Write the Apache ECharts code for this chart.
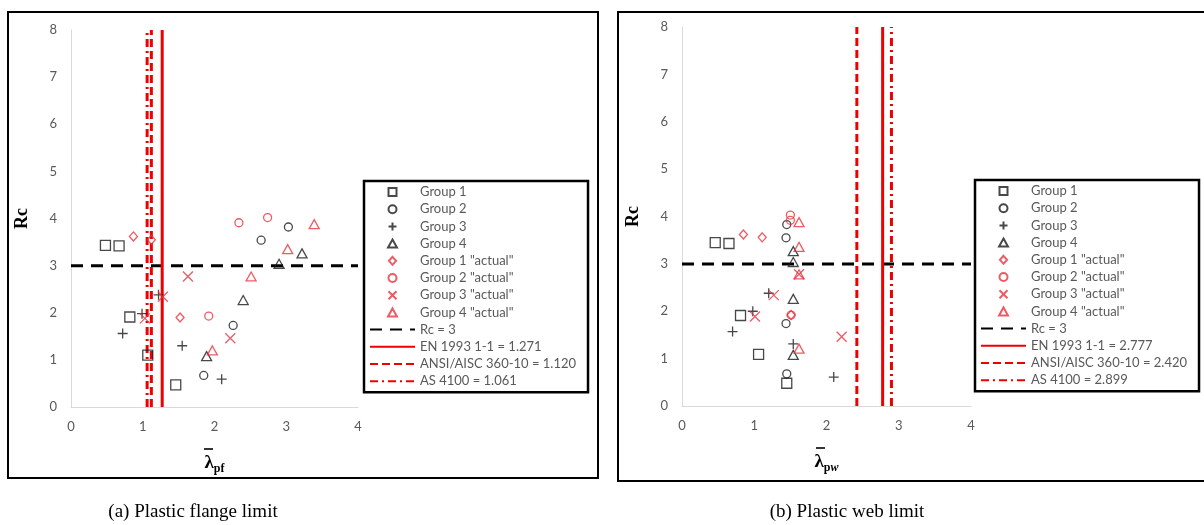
<!DOCTYPE html>
<html>
<head>
<meta charset="utf-8">
<script src="https://cdn.jsdelivr.net/npm/echarts@6/dist/echarts.min.js"></script>
<style>
html,body{margin:0;padding:0;background:#fff;}
#a{position:absolute;left:0;top:0;width:604px;height:525px;}
#b{position:absolute;left:604px;top:0;width:600px;height:525px;}
</style>
</head>
<body>
<div id="a"></div>
<div id="b"></div>
<script>
// ---------- data ----------
const groupNames = ['Group 1','Group 2','Group 3','Group 4','Group 1 "actual"','Group 2 "actual"','Group 3 "actual"','Group 4 "actual"'];
const limitNames = ['EN 1993 1-1','ANSI/AISC 360-10','AS 4100'];
const rcValue = 3;
const xTicks = [0, 4, 1];   // min, max, interval
const yTicks = [0, 8, 1];

// (a) Plastic flange limit
const g1A = [[0.48,3.43],[0.67,3.42],[0.82,1.91],[1.07,1.10],[1.46,0.47]];
const g2A = [[3.03,3.82],[2.65,3.54],[2.26,1.73],[1.85,0.67]];
const g3A = [[1.22,2.38],[0.99,1.98],[0.72,1.56],[1.55,1.30],[2.10,0.59]];
const g4A = [[3.22,3.26],[2.90,3.04],[2.40,2.27],[1.89,1.08]];
const g1actA = [[0.87,3.62],[1.12,3.55],[1.52,1.90]];
const g2actA = [[2.34,3.91],[2.74,4.02],[1.92,1.93]];
const g3actA = [[1.63,2.77],[1.28,2.34],[1.03,1.88],[2.22,1.46]];
const g4actA = [[3.39,3.88],[3.02,3.35],[2.51,2.77],[1.97,1.20]];
const limitsA = [1.271, 1.120, 1.061];

// (b) Plastic web limit
const g1B = [[0.46,3.45],[0.65,3.43],[0.81,1.91],[1.06,1.09],[1.45,0.48]];
const g2B = [[1.45,3.83],[1.44,3.55],[1.44,1.74],[1.45,0.68]];
const g3B = [[1.20,2.38],[0.98,2.00],[0.70,1.57],[1.54,1.31],[2.10,0.61]];
const g4B = [[1.54,3.27],[1.54,3.04],[1.54,2.26],[1.54,1.08]];
const g1actB = [[0.85,3.62],[1.11,3.56],[1.51,1.92]];
const g2actB = [[1.50,4.03],[1.50,3.92],[1.51,1.92]];
const g3actB = [[1.62,2.78],[1.27,2.34],[1.01,1.89],[2.21,1.46]];
const g4actB = [[1.62,3.88],[1.62,3.36],[1.62,2.78],[1.62,1.21]];
const limitsB = [2.777, 2.420, 2.899];

const captionA = '(a) Plastic flange limit';
const captionB = '(b) Plastic web limit';

// ---------- styles ----------
const BLACK = '#1a1a1a';
const RED = '#e8323c';
const LINE_RED = '#ee0000';
const SQUARE = 'path://M0,0L10,0L10,10L0,10Z';
const PLUS = 'path://M0,5L10,5M5,0L5,10';
const CROSS = 'path://M0,0L10,10M10,0L0,10';
const TRI = 'path://M5,0L10,9L0,9Z';
const DIAM = 'path://M4,0L8,4.5L4,9L0,4.5Z';
const symbolDefs = [
  {symbol:SQUARE, size:10, color:BLACK},
  {symbol:'circle', size:8, color:BLACK},
  {symbol:PLUS, size:10, color:BLACK},
  {symbol:TRI, size:10, color:BLACK},
  {symbol:DIAM, size:9, color:RED},
  {symbol:'circle', size:8, color:RED},
  {symbol:CROSS, size:10, color:RED},
  {symbol:TRI, size:10, color:RED}
];
const lineTypes = ['solid', [8,4], [8,4,2,4]];

function build(groups, limits, grid, legendPos, subRich, caption, captionX, border) {
  const series = [];
  const legendData = [];
  groups.forEach((g, i) => {
    const d = symbolDefs[i];
    series.push({
      name: groupNames[i], type:'scatter', data:g, z:5,
      symbol:d.symbol, symbolSize:d.size, symbolKeepAspect:true,
      itemStyle:{color:'rgba(255,255,255,0)', borderColor:d.color, borderWidth:1.3}
    });
    legendData.push(groupNames[i]);
  });
  const rcName = 'Rc = ' + rcValue;
  series.push({
    name:rcName, type:'line', data:[[xTicks[0], rcValue],[xTicks[1], rcValue]],
    symbol:'none', showSymbol:false, z:3, itemStyle:{color:'#000'},
    lineStyle:{color:'#000', width:3, type:[12,8]}
  });
  legendData.push({name:rcName, itemStyle:{opacity:0}});
  limits.forEach((v, i) => {
    const nm = limitNames[i] + ' = ' + v.toFixed(3);
    series.push({
      name:nm, type:'line', data:[[v, yTicks[0]],[v, yTicks[1]]],
      symbol:'none', showSymbol:false, z:3, itemStyle:{color:LINE_RED},
      lineStyle:{color:LINE_RED, width:3, type:lineTypes[i]}
    });
    legendData.push({name:nm, itemStyle:{opacity:0}});
  });
  return {
    animation:false,
    grid:grid,
    xAxis:{
      type:'value', min:xTicks[0], max:xTicks[1], interval:xTicks[2],
      axisLine:{show:true, onZero:false, lineStyle:{color:'#d9d9d9', width:1}},
      axisTick:{show:false}, splitLine:{show:false},
      axisLabel:{color:'#595959', fontSize:13, fontFamily:'Lato', margin:13},
      name:subRich, nameLocation:'middle', nameGap:40,
      nameTextStyle:{rich:{
        bar:{width:9, height:1.6, backgroundColor:'#000', lineHeight:4, fontSize:2},
        gap:{width:12, height:1.6, lineHeight:4, fontSize:2},
        l:{fontFamily:'Liberation Serif', fontWeight:'bold', fontSize:19, color:'#000', lineHeight:20},
        s:{fontFamily:'Liberation Serif', fontWeight:'bold', fontSize:12, color:'#000', verticalAlign:'bottom', lineHeight:24},
        w:{fontFamily:'Liberation Serif', fontWeight:'bold', fontStyle:'italic', fontSize:12, color:'#000', verticalAlign:'bottom', lineHeight:24}
      }}
    },
    yAxis:{
      type:'value', min:yTicks[0], max:yTicks[1], interval:yTicks[2],
      axisLine:{show:true, lineStyle:{color:'#d9d9d9', width:1}},
      axisTick:{show:false}, splitLine:{show:false},
      axisLabel:{color:'#595959', fontSize:13, fontFamily:'Lato', margin:14},
      name:'Rc', nameLocation:'middle', nameGap:40, nameRotate:90,
      nameTextStyle:{fontFamily:'Liberation Serif', fontWeight:'bold', fontSize:18, color:'#000'}
    },
    legend:{
      orient:'vertical', left:legendPos.left, top:legendPos.top,
      data:legendData, itemWidth:45, itemHeight:8, itemGap:3.2,
      symbolKeepAspect:true,
      padding:[4, 12, 4, 5], borderColor:'#000', borderWidth:2.5, backgroundColor:'#fff',
      textStyle:{color:'#595959', fontSize:13, fontFamily:'Lato', lineHeight:14},
      selectedMode:false
    },
    graphic:[
      {type:'rect', shape:border, style:{fill:'none', stroke:'#000', lineWidth:2}, silent:true, z:-1},
      {type:'text', x:captionX, y:512, style:{text:caption, fontFamily:'Liberation Serif', fontSize:19, fill:'#000', textAlign:'center', textVerticalAlign:'middle'}}
    ],
    series:series
  };
}

const chartA = echarts.init(document.getElementById('a'));
chartA.setOption(build(
  [g1A,g2A,g3A,g4A,g1actA,g2actA,g3actA,g4actA], limitsA,
  {left:71, right:246, top:30, bottom:118},
  {left:364, top:181},
  '{bar| }{gap| }\n{l|λ}{s|pf}', captionA, 193,
  {x:8, y:12, width:590, height:466}
));

const chartB = echarts.init(document.getElementById('b'));
chartB.setOption(build(
  [g1B,g2B,g3B,g4B,g1actB,g2actB,g3actB,g4actB], limitsB,
  {left:78, right:233, top:27, bottom:119},
  {left:371, top:180},
  '{bar| }{gap| }\n{l|λ}{s|p}{w|w}', captionB, 243,
  {x:14, y:12, width:600, height:469}
));
</script>
</body>
</html>
